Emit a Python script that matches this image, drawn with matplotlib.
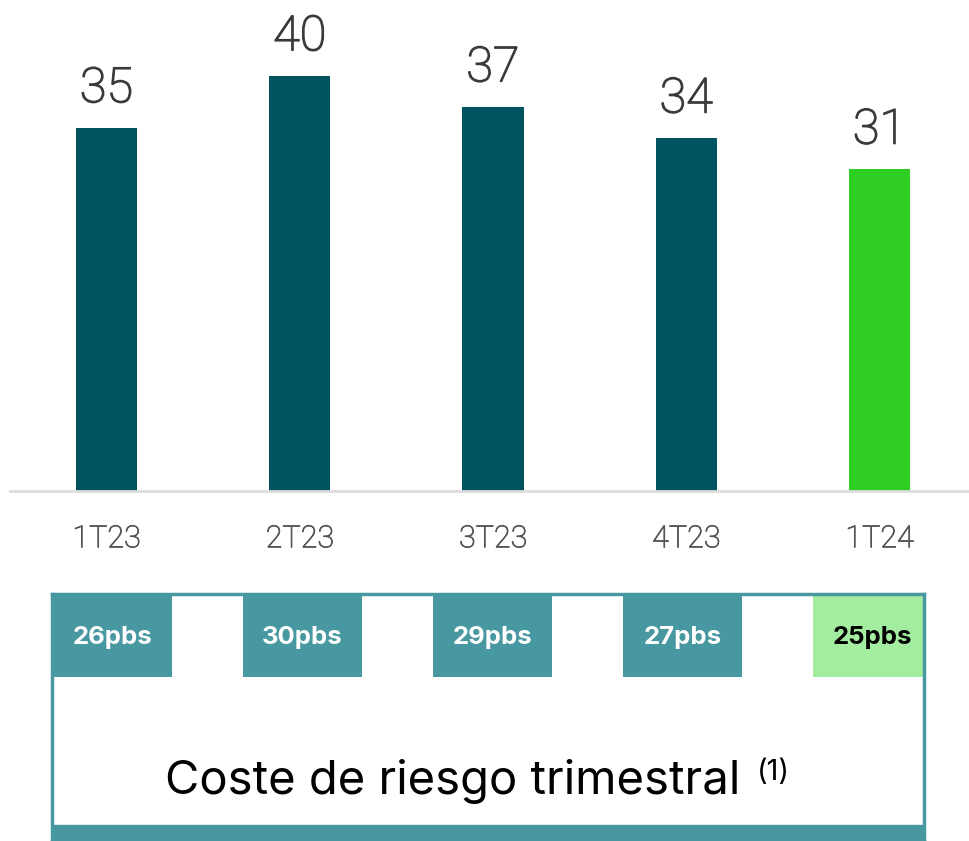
import matplotlib.pyplot as plt
import matplotlib.patheffects as pe
from matplotlib.patches import Rectangle

# data
quarters = ["1T23", "2T23", "3T23", "4T23", "1T24"]
values = [35, 40, 37, 34, 31]
cost_of_risk = [26, 30, 29, 27, 25]
box_title = "Coste de riesgo trimestral"
box_note = "(1)"

dark_teal = "#00535f"
green = "#2ecf22"
tile_teal = "#4898a2"
tile_green = "#a3eda0"

W, H = 969, 841
fig = plt.figure(figsize=(W / 100, H / 100), dpi=100)

# main bar axes: from x=10 to 969 px, baseline at y=491 px
ax = fig.add_axes([10 / W, (H - 491) / H, (W - 10) / W, 491 / H])
x = list(range(len(quarters)))
colors = [dark_teal] * (len(quarters) - 1) + [green]
bars = ax.bar(x, values, width=0.316, color=colors)
ax.set_xlim(-0.4994, 4.463)
ax.set_ylim(0, 491 / 10.375)

for b, v in zip(bars, values):
    ax.annotate(str(v), (b.get_x() + b.get_width() / 2, v),
                xytext=(0, 18.5), textcoords="offset points",
                ha="center", va="baseline", fontsize=35,
                color="#3a3a3a", family="Roboto", fontweight="light",
                path_effects=[pe.withStroke(linewidth=1.0, foreground="#3a3a3a")])

ax.set_xticks(x)
ax.set_xticklabels(quarters, fontsize=22, color="#555555",
                   family="Roboto", fontweight="light")
for lbl in ax.get_xticklabels():
    lbl.set_path_effects([pe.withStroke(linewidth=0.6, foreground="#555555")])
ax.tick_params(axis="x", length=0, pad=24)
ax.set_yticks([])
for s in ["top", "right", "left"]:
    ax.spines[s].set_visible(False)
ax.spines["bottom"].set_color("#dddddd")
ax.spines["bottom"].set_linewidth(2)

# lower box: x from 52 to 924 px, y from 594 to 841 px
bx = fig.add_axes([52 / W, 0, (924 - 52) / W, (H - 594) / H])
bx.set_xlim((52 - 112.5) / 190, (924 - 112.5) / 190)
bx.set_ylim(0, 1)
tile_colors = [tile_teal] * (len(cost_of_risk) - 1) + [tile_green]
text_colors = ["white"] * (len(cost_of_risk) - 1) + ["black"]
tiles = bx.bar(x, [1 - 0.664] * len(x), bottom=0.664, width=0.626,
               color=tile_colors)
for t, v, tc in zip(tiles, cost_of_risk, text_colors):
    bx.text(t.get_x() + t.get_width() / 2, 0.664 + (1 - 0.664) / 2 - 0.01,
            f"{v}pbs", ha="center", va="center", fontsize=18.5,
            fontweight="bold", color=tc, family="Inter")

bx.add_patch(Rectangle((0, 0), 1, 16 / 247, transform=bx.transAxes,
                       color=tile_teal, clip_on=False))
title = bx.text(0.459, 0.239, box_title, transform=bx.transAxes,
                ha="center", va="center", fontsize=34, color="black",
                family="Inter")
bx.annotate(box_note, xy=(1, 1), xycoords=title, xytext=(12, 0),
            textcoords="offset points", ha="left", va="top",
            fontsize=21, color="black", family="Inter")

bx.set_xticks([])
bx.set_yticks([])
for s in bx.spines.values():
    s.set_color(tile_teal)
    s.set_linewidth(2.5)

fig.savefig("out.png", dpi=100)
